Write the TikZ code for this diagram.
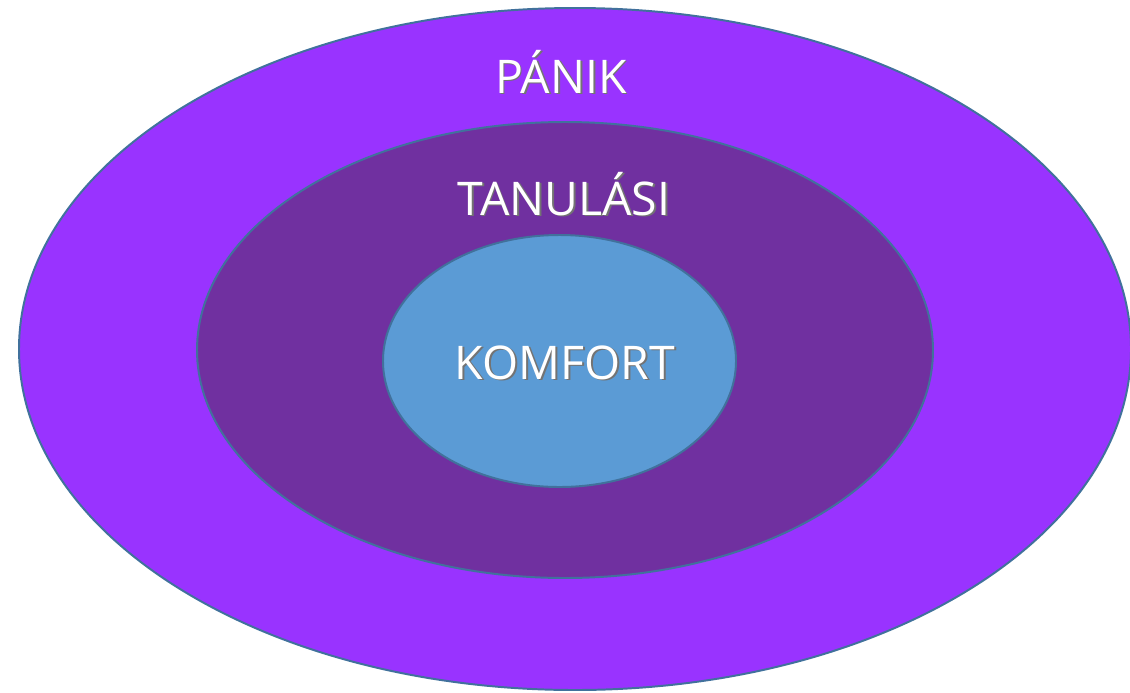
\documentclass[tikz,border=0pt]{standalone}
\usepackage{fontspec}
\setmainfont{Open Sans}
\usepackage{tikz}
\definecolor{panik}{HTML}{9933FF}
\definecolor{tanulasi}{HTML}{7030A0}
\definecolor{komfort}{HTML}{5B9BD5}
\definecolor{rim}{HTML}{41719C}
\newcommand\shtext[1]{\rlap{\hspace{1.2pt}\raisebox{-1.2pt}{\textcolor{black!55}{#1}}}#1}
\tikzset{zone/.style={draw=rim, line width=1.4pt}, zonetext/.style={text=white, anchor=base, inner sep=0pt, font=\fontsize{33}{33}\selectfont}}

\begin{document}
\begin{tikzpicture}[x=0.025cm, y=-0.025cm]
			%%%%% START %%%%%
			\useasboundingbox (0, 0) rectangle (1130, 692);
			
			\draw[zone, fill=panik] (575, 349) ellipse (556 and 341);
			\draw[zone, fill=tanulasi] (565, 350) ellipse (368 and 228);
			\draw[zone, fill=komfort] (559.5, 361) ellipse (176.5 and 126);
			
			\node[zonetext] (panik) at (561, 93) {\shtext{PÁNIK}};
			\node[zonetext] (tanulasi) at (564, 215) {\shtext{TANULÁSI}};
			\node[zonetext] (komfort) at (565, 379) {\shtext{KOMFORT}};
			
			%%%%% END %%%%%
\end{tikzpicture}
\end{document}
